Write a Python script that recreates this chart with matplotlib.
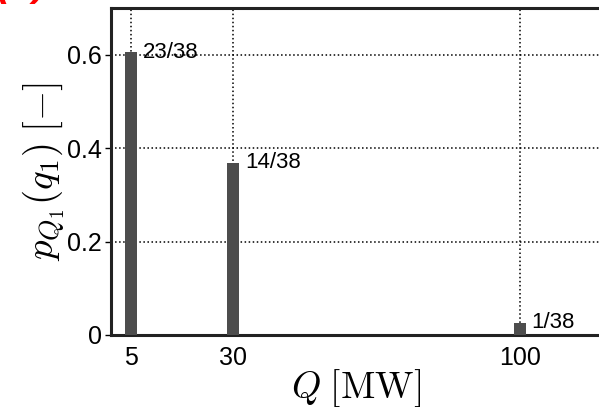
import numpy as np
import matplotlib.pyplot as plt

plt.rcParams['font.family'] = ['Liberation Sans', 'DejaVu Sans']
plt.rcParams['mathtext.fontset'] = 'cm'

# empirical pmf of the first heat-flow value
q_vals = [5, 30, 100]
counts = [23, 14, 1]
n_total = 38
probs = [c / n_total for c in counts]
frac_labels = ['%d/%d' % (c, n_total) for c in counts]

yticks = [0, 0.2, 0.4, 0.6]
ytick_labels = ['0', '0.2', '0.4', '0.6']

fig = plt.figure(figsize=(5.99, 4.07), dpi=100)
ax = fig.add_axes([0.1845, 0.177, 0.82, 0.803])

ax.bar(q_vals, probs, width=3, color='#4d4d4d', zorder=3)
for q, p, lab in zip(q_vals, probs, frac_labels):
    ax.text(q + 2.8, p, lab, fontsize=16, va='center', ha='left')

ax.set_xlim(0, 120)
ax.set_ylim(0, 0.7)
ax.set_xticks(q_vals)
ax.set_xticklabels([str(q) for q in q_vals], fontsize=18)
ax.set_yticks(yticks)
ax.set_yticklabels(ytick_labels, fontsize=18)
ax.tick_params(axis='x', length=0, pad=8)
ax.tick_params(axis='y', direction='out', length=4, width=1, pad=2)

ax.grid(True, linestyle=':', color='black', linewidth=1.1, zorder=0)

for side in ['left', 'top', 'bottom']:
    ax.spines[side].set_linewidth(2.2)
    ax.spines[side].set_color('#222222')
ax.spines['right'].set_visible(False)

ax.set_xlabel(r'$Q\;[\mathrm{MW}]$', fontsize=27, labelpad=-2)
ax.set_ylabel(r'$p_{Q_1}(q_1)\;[-]$', fontsize=28, labelpad=0)

fig.text(-0.005, 1 + 4 / 407, '(b)', color='red', fontsize=28,
         fontweight='bold', style='italic', va='baseline', ha='left')

fig.savefig('out.png', dpi=100)
